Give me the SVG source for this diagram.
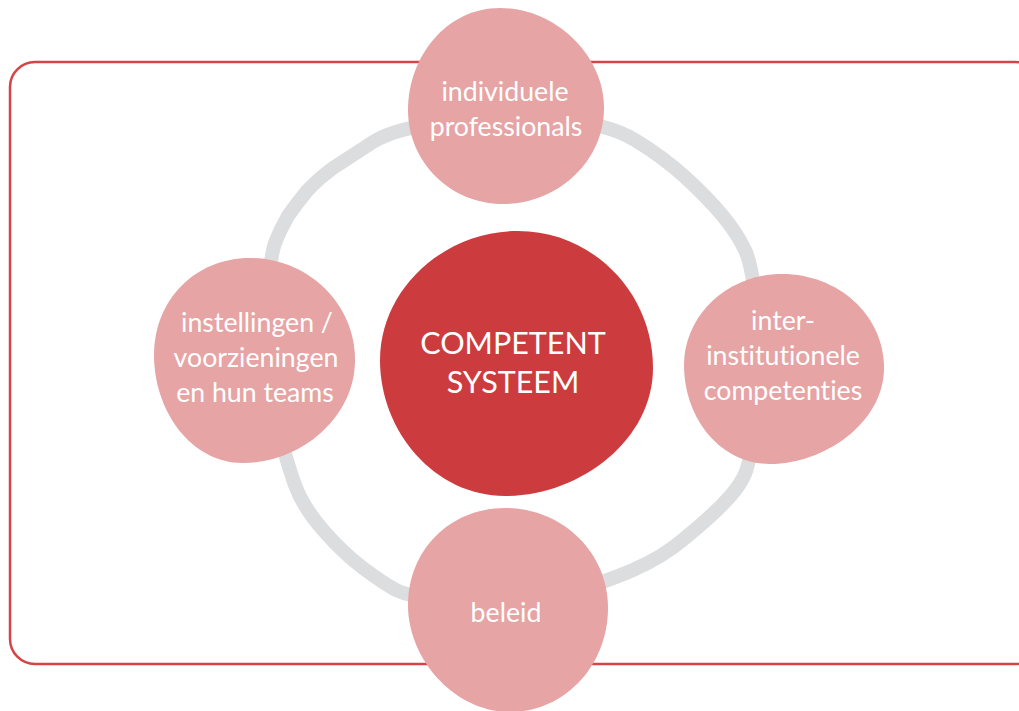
<svg xmlns="http://www.w3.org/2000/svg" width="1019" height="711" viewBox="0 0 1019 711">
  <style>
    .frame { fill: none; stroke: #d6444a; stroke-width: 2.5; }
    .ring { fill: none; stroke: #dcdddf; stroke-width: 14; stroke-linejoin: round; }
    .satellite { fill: #e6a4a5; }
    .core { fill: #cc3c3f; }
    .lbl { fill: #ffffff; font-family: Lato, "Open Sans", "Liberation Sans", sans-serif; font-size: 26.7px; text-anchor: middle; font-variant-ligatures: none; }
    .core-lbl { font-size: 30.5px; }
  </style>
  <rect class="frame" x="10" y="62" width="1030" height="602" rx="25" ry="25"/>
  <g id="connectors">
    <path class="ring" d="M 556,120 Q 607,123 635,140 Q 663,157 685,177 Q 707,197 722,215 Q 737,233 745,250 Q 753,267 757,316 Q 762,365 756,416 Q 750,467 743,478 Q 737,490 722,505 Q 707,520 685,538 Q 663,557 633,570 Q 603,583 555,597 Q 508,612 459,604 Q 410,597 396,590 Q 383,583 363,568 Q 343,553 323,530 Q 303,507 295,485 Q 287,463 274,414 Q 262,365 266,311 Q 270,257 275,243 Q 280,230 288,216 Q 297,203 307,191 Q 317,180 333,168 Q 350,157 373,142 Q 397,127 451,122 Q 505,118 556,120 Z"/>
  </g>
  <g id="node-center">
    <path class="core" d="M 518,231 C 593,231 653,293 653,368 C 653,440 580,496 505,496 C 435,496 380,432 380,360 C 380,290 443,231 518,231 Z"/>
    <text class="lbl core-lbl" x="513" y="354">COMPETENT</text>
    <text class="lbl core-lbl" x="513" y="393">SYSTEEM</text>
  </g>
  <g id="node-top">
    <path class="satellite" d="M 500,8 C 555,8 604,55 604,108 C 604,162 557,204 503,204 C 450,204 408,162 408,110 C 408,57 446,8 500,8 Z"/>
    <text class="lbl" x="505" y="101">individuele</text>
    <text class="lbl" x="506" y="136">professionals</text>
  </g>
  <g id="node-left">
    <path class="satellite" d="M 250,258 C 307,258 355,303 355,360 C 355,418 300,463 243,463 C 190,463 154,410 154,355 C 154,300 195,258 250,258 Z"/>
    <text class="lbl" x="257" y="332">instellingen /</text>
    <text class="lbl" x="256" y="367">voorzieningen</text>
    <text class="lbl" x="255" y="402">en hun teams</text>
  </g>
  <g id="node-right">
    <path class="satellite" d="M 782,274 C 838,274 884,315 884,368 C 884,422 825,464 770,464 C 720,464 684,418 684,365 C 684,315 728,274 782,274 Z"/>
    <text class="lbl" x="783" y="330">inter-</text>
    <text class="lbl" x="783" y="365">institutionele</text>
    <text class="lbl" x="783" y="400">competenties</text>
  </g>
  <g id="node-bottom">
    <path class="satellite" d="M 505,508 C 562,508 608,552 608,608 C 608,665 565,712 510,712 C 455,712 408,660 408,605 C 408,550 450,508 505,508 Z"/>
    <text class="lbl" x="506" y="622">beleid</text>
  </g>
</svg>
